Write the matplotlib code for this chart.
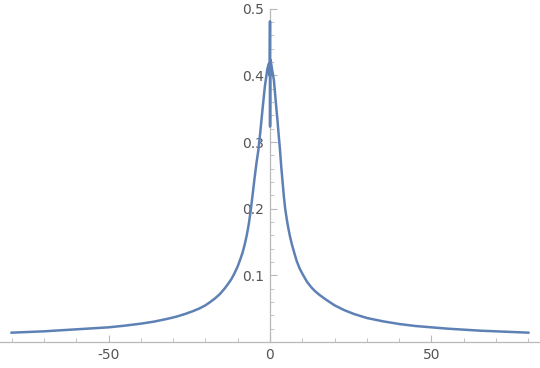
import matplotlib
matplotlib.use("Agg")
import matplotlib.pyplot as plt
from matplotlib.ticker import MultipleLocator, FixedLocator

# Data
x_left = [-80, -75, -70, -65, -60, -55, -50, -45, -40, -36, -32, -29, -26, -24, -22,
          -20, -18.5, -17, -15.5, -14, -13, -12, -11, -10, -9.2, -8.5, -7.8, -7.2,
          -6.6, -6.0, -5.4, -4.8, -4.2, -3.6, -3.0, -2.4, -1.6, -0.8, -0.3]
y_left = [0.014, 0.015, 0.016, 0.0175, 0.019, 0.0205, 0.022, 0.0245, 0.0275, 0.0305,
          0.0345, 0.038, 0.0425, 0.046, 0.050, 0.055, 0.060, 0.0655, 0.072, 0.0805,
          0.087, 0.094, 0.103, 0.1135, 0.124, 0.134, 0.147, 0.160, 0.176, 0.196,
          0.220, 0.245, 0.268, 0.288, 0.315, 0.345, 0.383, 0.410, 0.418]
x_center = [-0.15, -0.05, 0.0, 0.02, 0.06, 0.12]
y_center = [0.400, 0.420, 0.481, 0.323, 0.418, 0.400]
x_right = [0.2, 0.6, 1.2, 1.8, 2.3, 2.7, 3.1, 3.5, 3.9, 4.3, 4.7, 5.2, 5.7, 6.2, 6.8,
           7.5, 8.3, 9.2, 10.3, 11.5, 12.8, 14, 15.5, 17.5, 20, 22.9, 26, 30, 35,
           40, 45, 50, 55, 60, 65, 70, 75, 80]
y_right = [0.423, 0.410, 0.393, 0.360, 0.333, 0.310, 0.288, 0.262, 0.240, 0.218,
           0.200, 0.184, 0.170, 0.158, 0.146, 0.134, 0.121, 0.110, 0.100, 0.090,
           0.082, 0.076, 0.070, 0.063, 0.055, 0.048, 0.042, 0.036, 0.031, 0.027,
           0.024, 0.022, 0.020, 0.0185, 0.017, 0.016, 0.015, 0.014]

x_vals = x_left + x_center + x_right
y_vals = y_left + y_center + y_right

x_major = [-50, 0, 50]
y_major = [0.1, 0.2, 0.3, 0.4, 0.5]

fig = plt.figure(figsize=(5.4, 3.68), dpi=100)
ax = fig.add_axes([0, 0, 1, 1])
ax.plot(x_vals, y_vals, color="#5E81B5", lw=1.8, solid_joinstyle="round", zorder=5)

ax.set_xlim(-83.6, 83.6)
ax.set_ylim(-0.039, 0.513)

axis_col = "#B8B8B8"
for s in ["top", "right"]:
    ax.spines[s].set_visible(False)
ax.spines["left"].set_position(("data", 0))
ax.spines["bottom"].set_position(("data", 0))
ax.spines["left"].set_bounds(0, 0.5)
for s in ["left", "bottom"]:
    ax.spines[s].set_color(axis_col)
    ax.spines[s].set_linewidth(0.9)
    ax.spines[s].set_zorder(1)

ax.xaxis.set_major_locator(FixedLocator(x_major))
ax.xaxis.set_minor_locator(MultipleLocator(10))
ax.yaxis.set_major_locator(FixedLocator(y_major))
ax.yaxis.set_minor_locator(FixedLocator([0.02 * i for i in range(1, 26)]))
ax.set_xticklabels([f"{v}" for v in x_major])
ax.set_yticklabels([f"{v:.1f}" for v in y_major])

ax.tick_params(axis="both", which="major", direction="in", length=5, width=0.8,
               color=axis_col, labelcolor="#555555", labelsize=10, pad=4)
ax.tick_params(axis="both", which="minor", direction="in", length=3, width=0.6,
               color=axis_col)

fig.savefig("out.png", dpi=100)
